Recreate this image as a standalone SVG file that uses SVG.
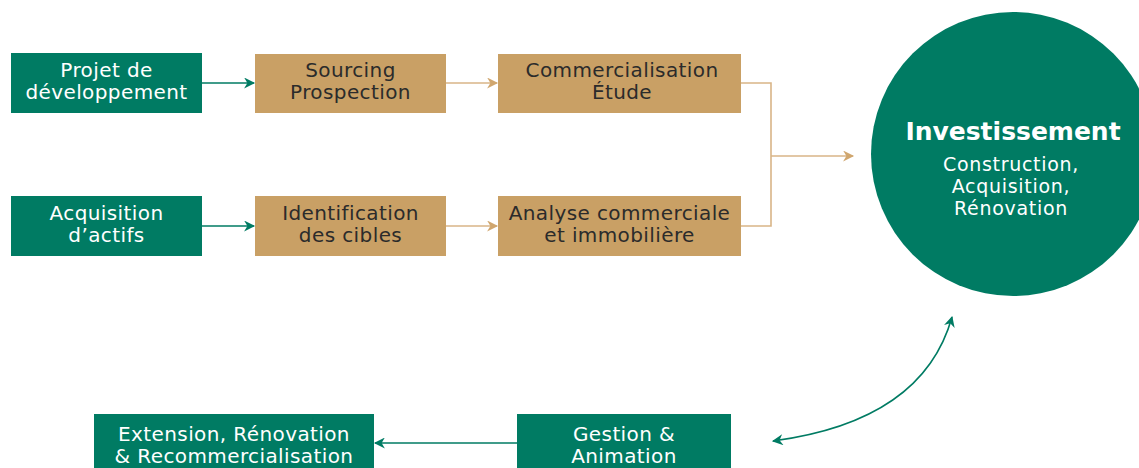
<svg xmlns="http://www.w3.org/2000/svg" width="1139" height="468" viewBox="0 0 1139 468">
<style>
.g{fill:#007B63}
.t{fill:#C9A065}
text{font-family:"DejaVu Sans","Noto Sans",sans-serif;font-size:20px;letter-spacing:0.4px;text-anchor:middle}
.w{fill:#FFFFFF}
.d{fill:#2B2B2B}
.s{font-size:19px;letter-spacing:0.7px}
.cg{stroke:#007B63;stroke-width:1.6;fill:none}
.ct{stroke:#D9B587;stroke-width:1.6;fill:none}
</style>
<defs>
<marker id="ag" viewBox="0 0 10 10" refX="9" refY="5" markerWidth="12" markerHeight="11" markerUnits="userSpaceOnUse" orient="auto-start-reverse"><path d="M0,0 L10,5 L0,10 L3,5 Z" fill="#007B63"/></marker>
<marker id="at" viewBox="0 0 10 10" refX="9" refY="5" markerWidth="12" markerHeight="11" markerUnits="userSpaceOnUse" orient="auto"><path d="M0,0 L10,5 L0,10 L3,5 Z" fill="#D0A66E"/></marker>
</defs>
<rect width="1139" height="468" fill="#FFFFFF"/>
<g id="connectors">
<line class="cg" x1="202" y1="83" x2="254" y2="83" marker-end="url(#ag)"/>
<line class="cg" x1="202" y1="226" x2="254" y2="226" marker-end="url(#ag)"/>
<line class="ct" x1="446" y1="83" x2="497" y2="83" marker-end="url(#at)"/>
<line class="ct" x1="446" y1="226" x2="497" y2="226" marker-end="url(#at)"/>
<polyline class="ct" points="741,83 771,83 771,226 741,226"/>
<line class="ct" x1="771" y1="156" x2="853" y2="156" marker-end="url(#at)"/>
<line class="cg" x1="517" y1="443" x2="375" y2="443" marker-end="url(#ag)"/>
<path class="cg" d="M952,317 Q923,421 773,441" marker-start="url(#ag)" marker-end="url(#ag)"/>
</g>
<g id="n1"><rect class="g" x="11" y="53" width="191" height="60"/><text class="w" x="106.5" y="77">Projet de</text><text class="w" x="106.5" y="99">développement</text></g>
<g id="n2"><rect class="t" x="255" y="54" width="191" height="59"/><text class="d" x="350.5" y="77">Sourcing</text><text class="d" x="350.5" y="99">Prospection</text></g>
<g id="n3"><rect class="t" x="498" y="54" width="243" height="59"/><text class="d" x="622" y="77">Commercialisation</text><text class="d" x="622" y="99">Étude</text></g>
<g id="n4"><rect class="g" x="11" y="196" width="191" height="60"/><text class="w" x="106.5" y="220">Acquisition</text><text class="w" x="106.5" y="242">d’actifs</text></g>
<g id="n5"><rect class="t" x="255" y="196" width="191" height="60"/><text class="d" x="350.5" y="220">Identification</text><text class="d" x="350.5" y="242">des cibles</text></g>
<g id="n6"><rect class="t" x="498" y="196" width="243" height="60"/><text class="d" x="619.5" y="220">Analyse commerciale</text><text class="d" x="619.5" y="242">et immobilière</text></g>
<g id="n7"><circle class="g" cx="1013" cy="154" r="142"/><text class="w" x="1013" y="140" style="font-size:25px;font-weight:bold;letter-spacing:0">Investissement</text><text class="w s" x="1011" y="171">Construction,</text><text class="w s" x="1011" y="193">Acquisition,</text><text class="w s" x="1011" y="215">Rénovation</text></g>
<g id="n8"><rect class="g" x="94" y="414" width="280" height="54"/><text class="w" x="234" y="441">Extension, Rénovation</text><text class="w" x="234" y="463">&amp; Recommercialisation</text></g>
<g id="n9"><rect class="g" x="517" y="414" width="214" height="54"/><text class="w" x="624" y="441">Gestion &amp;</text><text class="w" x="624" y="463">Animation</text></g>
</svg>
